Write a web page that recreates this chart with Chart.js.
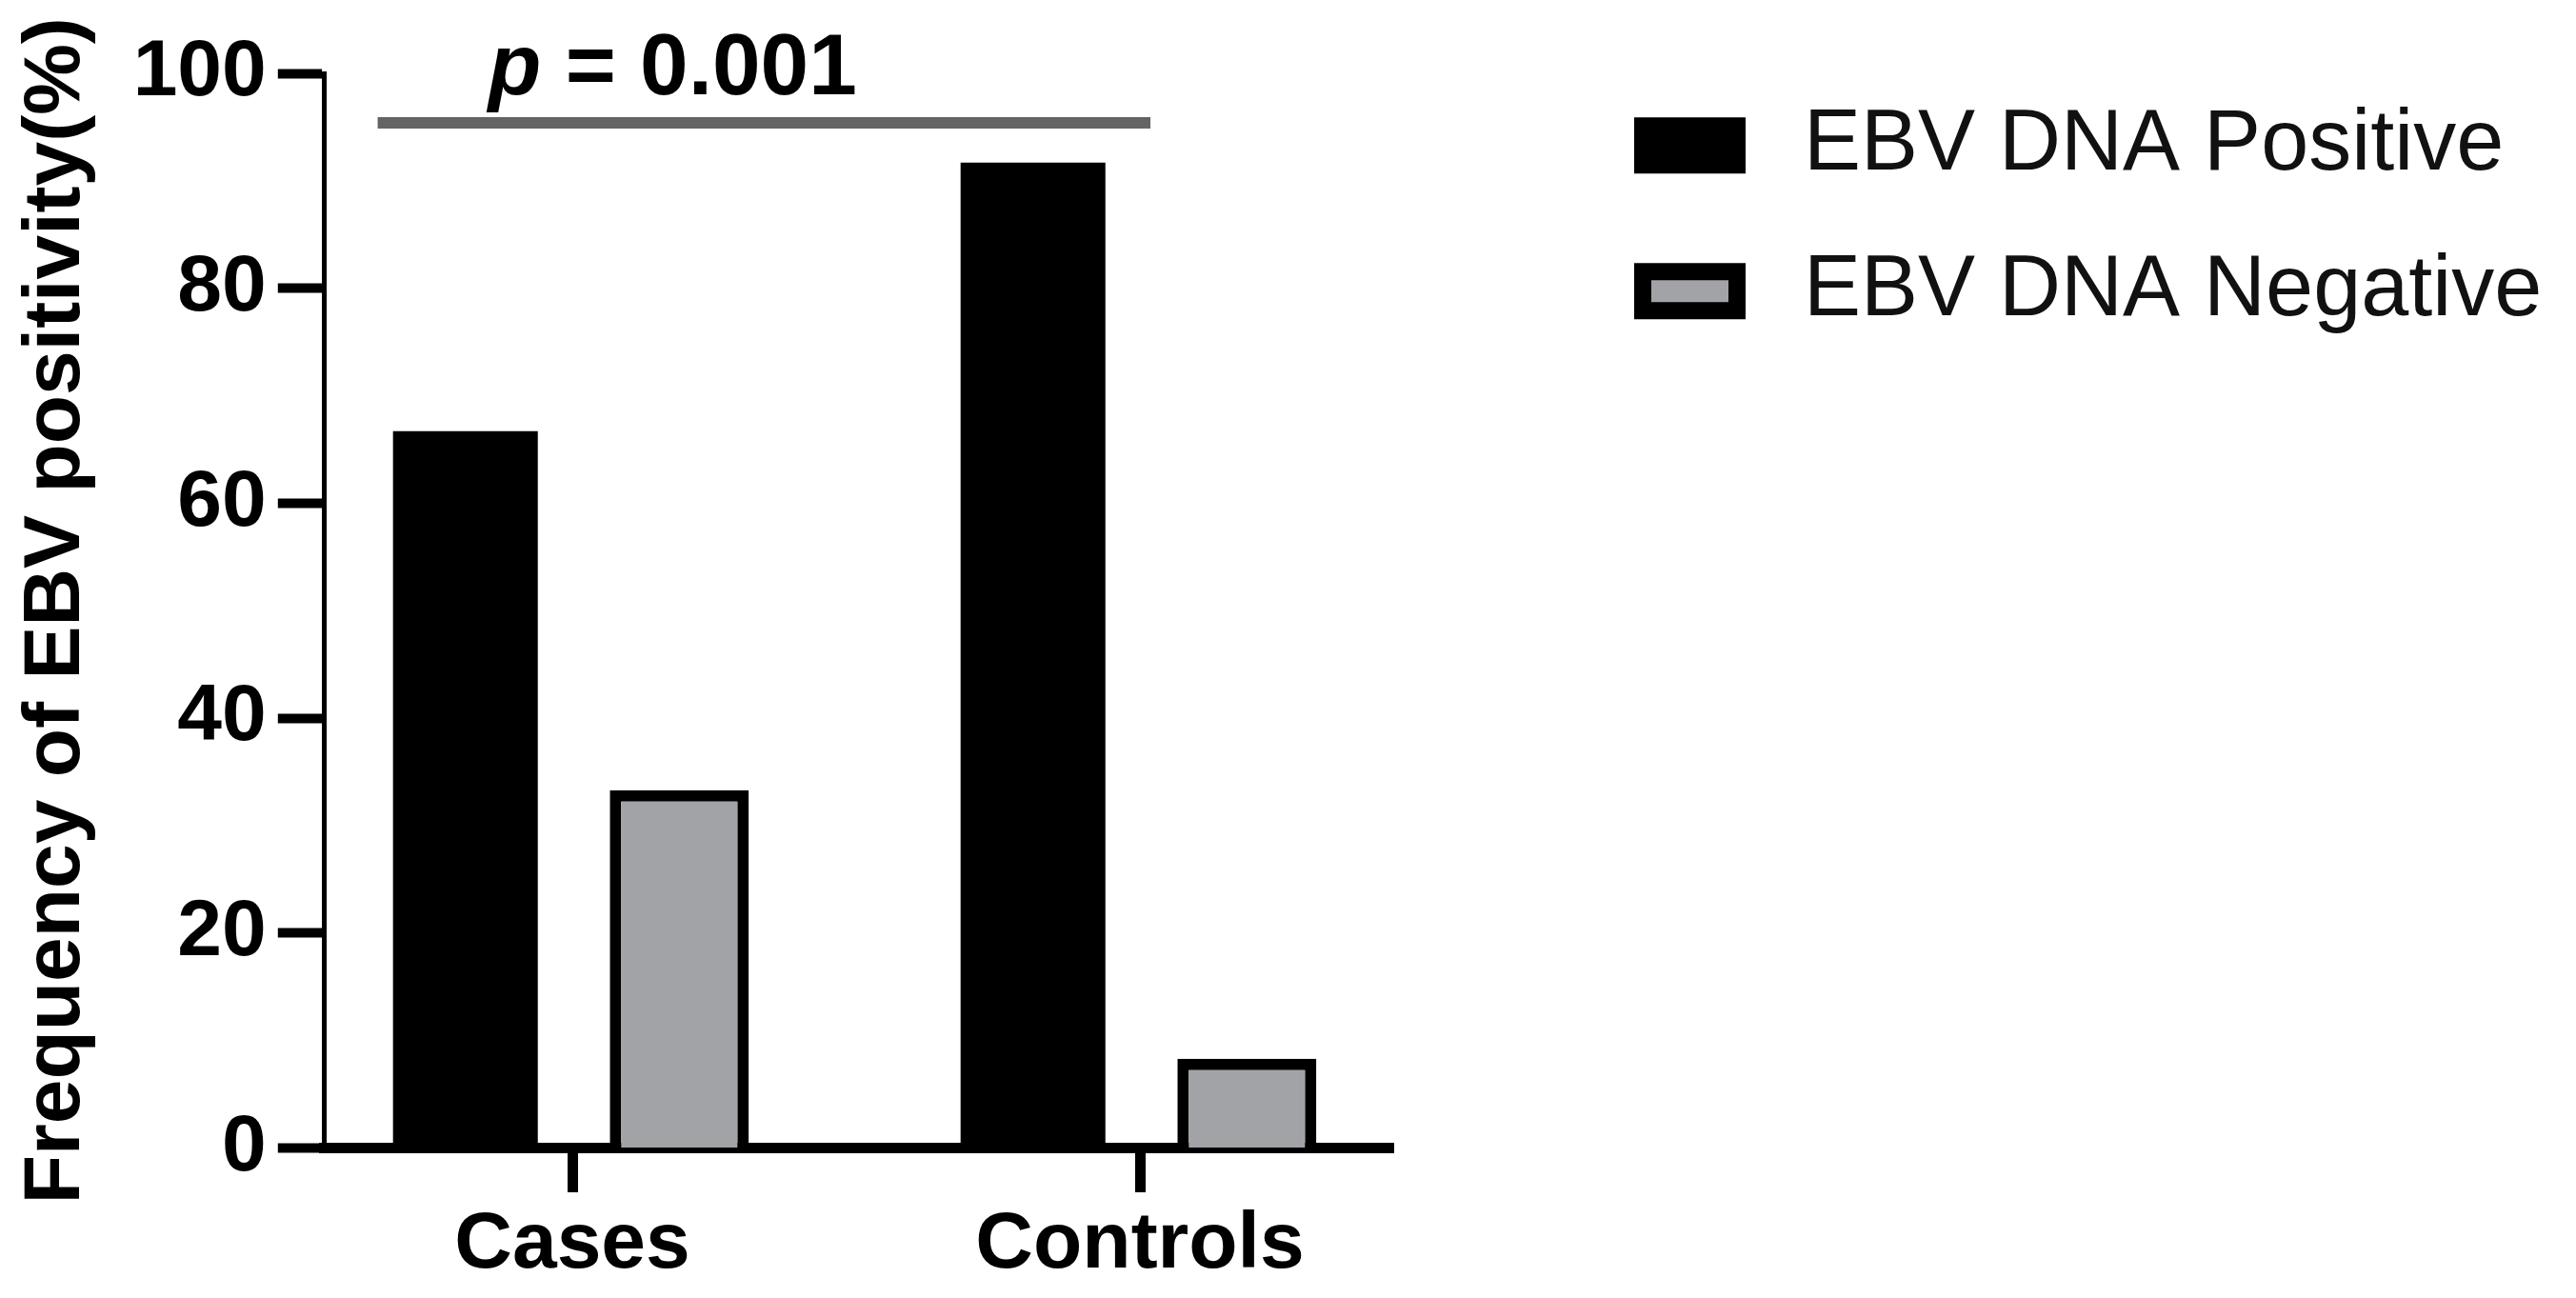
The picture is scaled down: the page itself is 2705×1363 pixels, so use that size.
<!DOCTYPE html>
<html>
<head>
<meta charset="utf-8">
<title>EBV DNA positivity</title>
<script src="https://cdn.jsdelivr.net/npm/chart.js@4.4.1/dist/chart.umd.min.js"></script>
<style>
  html, body { margin: 0; padding: 0; background: #fff; }
  #wrap { position: relative; width: 2705px; height: 1363px; }
</style>
</head>
<body>
<div id="wrap"><canvas id="myChart"></canvas></div>
<script>
// data
const categories = ['Cases', 'Controls'];
const seriesNames = ['EBV DNA Positive', 'EBV DNA Negative'];
const positive = [66.7, 91.7];
const negative = [33.3, 8.3];
const yTicks = [0, 20, 40, 60, 80, 100];
const pText = ['p', ' = 0.001'];

// annotation placement, in axis units
const bracket = { from: -0.343, to: 1.0185, y: 95.4 };
const pLabel = { x: -0.148, y: 98.05 };

const FONT = '"Liberation Sans", Arial, sans-serif';
const W = 2705, H = 1363;
const plotRight = 1463;
const legendFont = 90, legendBox = 99, legendPad = 63;

// legend is squeezed to 1px in the layout, then put where the figure has it
const legendShift = {
  id: 'legendShift',
  afterLayout(chart) {
    const lg = chart.legend;
    lg.left = 1662; lg.right = W;
    lg.top = 44.8; lg.bottom = H;
    lg.width = lg.right - lg.left;
    lg.height = lg.bottom - lg.top;
  }
};

// significance bar and p value
const pAnnotation = {
  id: 'pAnnotation',
  afterDraw(chart) {
    const { ctx, scales: { x, y } } = chart;
    ctx.save();
    const yy = y.getPixelForValue(bracket.y);
    ctx.strokeStyle = '#646464';
    ctx.lineWidth = 12;
    ctx.beginPath();
    ctx.moveTo(x.getPixelForValue(bracket.from), yy);
    ctx.lineTo(x.getPixelForValue(bracket.to), yy);
    ctx.stroke();

    let tx = x.getPixelForValue(pLabel.x);
    const ty = y.getPixelForValue(pLabel.y);
    ctx.fillStyle = '#000';
    ctx.textBaseline = 'alphabetic';
    ctx.textAlign = 'left';
    ctx.font = 'italic bold 91px ' + FONT;
    ctx.fillText(pText[0], tx, ty);
    tx += ctx.measureText(pText[0]).width;
    ctx.font = 'normal bold 91px ' + FONT;
    ctx.fillText(pText[1], tx, ty);
    ctx.restore();
  }
};

new Chart(document.getElementById('myChart'), {
  type: 'bar',
  data: {
    datasets: [
      {
        label: seriesNames[0],
        data: categories.map((c, i) => ({ x: i, y: positive[i] })),
        backgroundColor: '#000',
        borderColor: '#000',
        borderWidth: 0,
        barPercentage: 0.677
      },
      {
        label: seriesNames[1],
        data: categories.map((c, i) => ({ x: i, y: negative[i] })),
        backgroundColor: '#a2a3a7',
        borderColor: '#000',
        borderWidth: 12,
        barPercentage: 0.65
      }
    ]
  },
  options: {
    responsive: true,
    maintainAspectRatio: false,
    animation: false,
    categoryPercentage: 0.7537,
    layout: { padding: { top: 77, right: W - plotRight - 1, bottom: 0, left: 0 } },
    plugins: {
      tooltip: { enabled: false },
      legend: {
        position: 'right',
        align: 'start',
        maxWidth: 1,
        labels: {
          boxWidth: legendBox,
          boxHeight: 41,
          padding: legendPad,
          color: '#111',
          font: { family: FONT, size: legendFont },
          generateLabels(chart) {
            const items = Chart.defaults.plugins.legend.labels.generateLabels(chart);
            items.forEach(it => {
              it.lineWidth = 18;
              it.strokeStyle = '#000';
              it.text = ' ' + it.text;
            });
            return items;
          }
        }
      }
    },
    scales: {
      x: {
        type: 'linear',
        min: -0.4366,
        max: 1.4463,
        offset: false,
        z: 1,
        afterBuildTicks: (scale) => { scale.ticks = categories.map((c, i) => ({ value: i })); },
        afterFit: (scale) => { scale.height = 157.5; },
        grid: { offset: false, drawOnChartArea: false, drawTicks: true, tickLength: 46.5, tickWidth: 11, tickColor: '#000' },
        border: { display: true, color: '#000', width: 11 },
        ticks: {
          padding: 5,
          color: '#000',
          maxRotation: 0,
          autoSkip: false,
          font: { family: FONT, size: 84, weight: 'bold' },
          callback: (v) => categories[v]
        }
      },
      y: {
        min: 0,
        max: 100,
        afterBuildTicks: (scale) => { scale.ticks = yTicks.map(v => ({ value: v })); },
        afterFit: (scale) => { scale.width = 340.8; },
        grid: { drawOnChartArea: false, drawTicks: true, tickLength: 49, tickWidth: 10, tickColor: '#000' },
        border: { display: true, color: '#000', width: 5 },
        ticks: {
          padding: 12,
          color: '#000',
          font: { family: FONT, size: 84, weight: 'bold' }
        },
        title: {
          display: true,
          text: 'Frequency of EBV positivity(%)',
          color: '#000',
          padding: { top: 9, bottom: 0 },
          font: { family: FONT, size: 84, weight: 'bold', lineHeight: 1.2 }
        }
      }
    }
  },
  plugins: [legendShift, pAnnotation]
});
</script>
</body>
</html>
